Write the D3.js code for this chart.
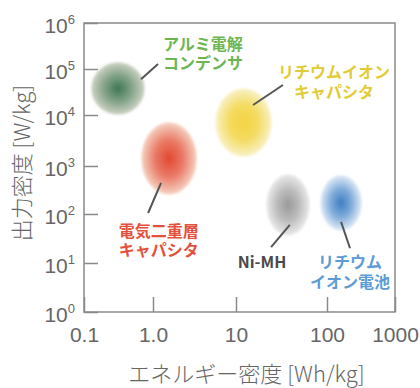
<!DOCTYPE html>
<html>
<head>
<meta charset="utf-8">
<script src="https://cdn.jsdelivr.net/npm/d3@7"></script>
<style>
  html, body { margin: 0; padding: 0; background: #fff; }
  svg { display: block; }
</style>
</head>
<body>
<svg id="chart" width="420" height="388"></svg>
<script>
// Energy storage devices: ranges of energy density [Wh/kg] and power density [W/kg]
const devices   = ["アルミ電解コンデンサ", "リチウムイオンキャパシタ", "電気二重層キャパシタ", "Ni-MH", "リチウムイオン電池"];
const energyLo  = [0.126, 5.6, 0.67, 21.4, 84];
const energyHi  = [0.766, 24.9, 3.4, 65, 327];
const powerLo   = [10000, 1500, 249, 35.6, 45];
const powerHi   = [142000, 38600, 7300, 680, 650];

// Label text (two lines each) and where the label and its leader sit, in data units
const labelLine1   = ["アルミ電解", "リチウムイオン", "電気二重層", "Ni-MH", "リチウム"];
const labelLine2   = ["コンデンサ", "キャパシタ", "キャパシタ", "", "イオン電池"];
const labelEnergy  = [1.32, 127, 0.32, 19.3, 218];
const labelPower   = [260000, 63700, 34, 7.9, 7.9];
const leaderFromE  = [0.67, 15.4, 1.25, 39, 161];
const leaderFromP  = [60000, 16500, 443, 60, 69];
const leaderToE    = [1.15, 32.8, 0.85, 24.3, 218];
const leaderToP    = [128000, 44900, 105, 21, 20];

// Axis ticks
const energyTicks = [0.1, 1, 10, 100, 1000];
const energyTickLabels = ["0.1", "1.0", "10", "100", "1000"];
const powerTicks = [1, 10, 100, 1000, 10000, 100000, 1000000];
const powerExponents = ["0", "1", "2", "3", "4", "5", "6"];

// Colour of each device: gradient centre, gradient rim, label text, and how quickly the centre fades
const centreColors = ["#3f7753", "#f3d443", "#e24832", "#999999", "#3d7ec3"];
const rimColors    = ["#c3ccbb", "#f8eeb8", "#f4c6b5", "#e4e4e4", "#d2e2f3"];
const textColors   = ["#6db553", "#e2cb34", "#e4503b", "#4a4a4a", "#5c9bd6"];
const midFade      = [0.5, 0.25, 0.4, 0.45, 0.45];

const svg = d3.select("#chart");
const plotLeft = 84, plotRight = 395, plotTop = 23, plotBottom = 312;

const x = d3.scaleLog()
  .domain(energyTicks)
  .range([plotLeft, 153, 236, 327, plotRight]);
const y = d3.scaleLog()
  .domain(powerTicks)
  .range([plotBottom, 263, 214, 166, 115, 69, plotTop]);

const axisColor = "#8a8a8a";
const textGray = "#666";

// Gradients for the soft blobs
const defs = svg.append("defs");
devices.forEach((d, i) => {
  const g = defs.append("radialGradient").attr("id", "grad" + i)
    .attr("cx", "50%").attr("cy", "50%").attr("r", "50%");
  g.append("stop").attr("offset", "0%").attr("stop-color", centreColors[i]).attr("stop-opacity", 1);
  g.append("stop").attr("offset", "50%").attr("stop-color", d3.interpolateRgb(centreColors[i], rimColors[i])(midFade[i]));
  g.append("stop").attr("offset", "92%").attr("stop-color", rimColors[i]).attr("stop-opacity", 1);
  g.append("stop").attr("offset", "100%").attr("stop-color", rimColors[i]).attr("stop-opacity", 0.5);
});
defs.append("filter").attr("id", "soft")
  .attr("x", "-10%").attr("y", "-10%").attr("width", "120%").attr("height", "120%")
  .append("feGaussianBlur").attr("stdDeviation", 1.1);

// Blobs
svg.append("g").selectAll("ellipse")
  .data(devices)
  .join("ellipse")
  .attr("cx", (d, i) => (x(energyLo[i]) + x(energyHi[i])) / 2)
  .attr("cy", (d, i) => (y(powerLo[i]) + y(powerHi[i])) / 2)
  .attr("rx", (d, i) => (x(energyHi[i]) - x(energyLo[i])) / 2)
  .attr("ry", (d, i) => (y(powerLo[i]) - y(powerHi[i])) / 2)
  .attr("fill", (d, i) => `url(#grad${i})`)
  .attr("filter", "url(#soft)");

// Frame
svg.append("rect")
  .attr("x", plotLeft).attr("y", plotTop)
  .attr("width", plotRight - plotLeft).attr("height", plotBottom - plotTop)
  .attr("fill", "none").attr("stroke", axisColor).attr("stroke-width", 1.5);

// Y axis with inward ticks and powers of ten
const yAxis = svg.append("g")
  .attr("transform", `translate(${plotLeft},0)`)
  .call(d3.axisLeft(y).tickValues(powerTicks).tickSize(-14).tickSizeOuter(0).tickPadding(9).tickFormat(() => ""));
yAxis.select(".domain").remove();
yAxis.selectAll(".tick line").attr("stroke", axisColor).attr("stroke-width", 1.5);
yAxis.selectAll(".tick text").each(function(d, i) {
  const t = d3.select(this)
    .attr("dy", "0.46em")
    .attr("fill", textGray)
    .attr("font-family", "'Liberation Sans', Arial, sans-serif")
    .attr("font-size", 21);
  t.append("tspan").text("10");
  t.append("tspan").attr("dy", -9).attr("font-size", 13).text(powerExponents[i]);
});

// X axis
const xAxis = svg.append("g")
  .attr("transform", `translate(0,${plotBottom})`)
  .call(d3.axisBottom(x).tickValues(energyTicks).tickSize(-15).tickSizeOuter(0).tickPadding(15)
    .tickFormat((d, i) => energyTickLabels[i]));
xAxis.select(".domain").remove();
xAxis.selectAll(".tick line").attr("stroke", axisColor).attr("stroke-width", 1.5);
xAxis.selectAll(".tick text")
  .attr("fill", textGray)
  .attr("font-family", "'Liberation Sans', Arial, sans-serif")
  .attr("font-size", 21);

// Axis titles
const cjk = "'Noto Sans CJK JP', 'Noto Sans', sans-serif";
svg.append("text")
  .attr("x", (plotLeft + plotRight) / 2 + 7).attr("y", 381.5)
  .attr("text-anchor", "middle")
  .attr("font-family", cjk).attr("font-size", 22).attr("font-weight", 300)
  .attr("fill", textGray)
  .text("エネルギー密度 [Wh/kg]");
svg.append("text")
  .attr("transform", "translate(30,163) rotate(-90)")
  .attr("text-anchor", "middle")
  .attr("font-family", cjk).attr("font-size", 22).attr("font-weight", 300)
  .attr("fill", textGray)
  .text("出力密度 [W/kg]");

// Leader lines
svg.append("g").selectAll("line")
  .data(devices)
  .join("line")
  .attr("x1", (d, i) => x(leaderFromE[i])).attr("y1", (d, i) => y(leaderFromP[i]))
  .attr("x2", (d, i) => x(leaderToE[i])).attr("y2", (d, i) => y(leaderToP[i]))
  .attr("stroke", "#555").attr("stroke-width", 2);

// Device labels
const anchors = ["start", "middle", "start", "middle", "middle"];
const labels = svg.append("g").selectAll("text")
  .data(devices)
  .join("text")
  .attr("x", (d, i) => x(labelEnergy[i]))
  .attr("y", (d, i) => y(labelPower[i]))
  .attr("text-anchor", (d, i) => anchors[i])
  .attr("font-family", cjk).attr("font-size", 16).attr("font-weight", 700)
  .attr("fill", (d, i) => textColors[i]);
labels.append("tspan").text((d, i) => labelLine1[i]);
labels.append("tspan")
  .attr("x", (d, i) => x(labelEnergy[i]))
  .attr("dy", 19.5)
  .text((d, i) => labelLine2[i]);
</script>
</body>
</html>
